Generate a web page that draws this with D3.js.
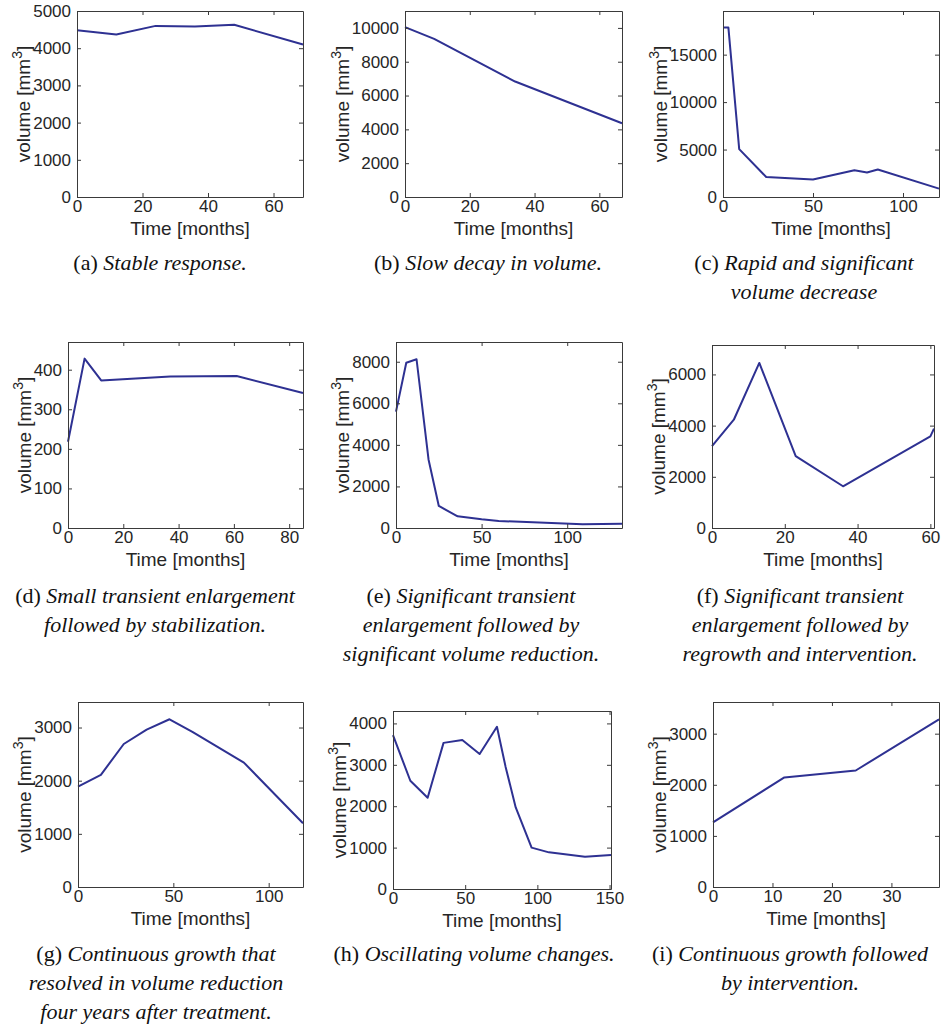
<!DOCTYPE html>
<html>
<head>
<meta charset="utf-8">
<script src="https://cdn.jsdelivr.net/npm/d3@7"></script>
<style>
body { margin: 0; background: #fff; }
svg { display: block; }
</style>
</head>
<body>
<svg id="fig" width="946" height="1029"></svg>
<script>
// months since treatment / tumour volume [mm^3] (a)..(i)
var monthsA = [0, 12, 24, 36, 48, 69];
var volumeA = [4480, 4370, 4600, 4585, 4630, 4100];
var monthsB = [0, 9, 34, 67];
var volumeB = [10050, 9350, 6830, 4360];
var monthsC = [0, 3, 9, 24, 50, 73, 80, 86, 120];
var volumeC = [17850, 17850, 5050, 2110, 1840, 2820, 2580, 2890, 880];
var monthsD = [0, 6, 12, 37, 61, 85];
var volumeD = [218, 428, 373, 383, 384, 341];
var monthsE = [0, 6, 12, 19, 25, 36, 50, 60, 109, 132];
var volumeE = [5600, 7950, 8120, 3300, 1060, 560, 420, 340, 175, 210];
var monthsF = [0, 6, 13, 23, 36, 60, 61];
var volumeF = [3200, 4230, 6450, 2810, 1630, 3580, 3880];
var monthsG = [0, 12, 24, 36, 48, 60, 87, 118];
var volumeG = [1890, 2110, 2690, 2960, 3155, 2920, 2340, 1200];
var monthsH = [0, 12, 24, 35, 48, 60, 72, 78, 85, 96, 108, 133, 151];
var volumeH = [3715, 2615, 2205, 3530, 3600, 3260, 3920, 2950, 1970, 1000, 885, 780, 820];
var monthsI = [0, 12, 24, 38];
var volumeI = [1265, 2145, 2280, 3280];

var allMonths = [monthsA, monthsB, monthsC, monthsD, monthsE, monthsF, monthsG, monthsH, monthsI];
var allVolume = [volumeA, volumeB, volumeC, volumeD, volumeE, volumeF, volumeG, volumeH, volumeI];

// axis limits and ticks per panel
var xMax = [69, 67, 120, 85, 132, 61, 118, 151, 38];
var yMax = [5000, 11000, 19600, 470, 8950, 7150, 3480, 4300, 3620];
var xTicks = [
	[0, 20, 40, 60], [0, 20, 40, 60], [0, 50, 100],
	[0, 20, 40, 60, 80], [0, 50, 100], [0, 20, 40, 60],
	[0, 50, 100], [0, 50, 100, 150], [0, 10, 20, 30]
];
var yTicks = [
	[0, 1000, 2000, 3000, 4000, 5000], [0, 2000, 4000, 6000, 8000, 10000], [0, 5000, 10000, 15000],
	[0, 100, 200, 300, 400], [0, 2000, 4000, 6000, 8000], [0, 2000, 4000, 6000],
	[0, 1000, 2000, 3000], [0, 1000, 2000, 3000, 4000], [0, 1000, 2000, 3000]
];

var xLabel = 'Time [months]';
var captionTags = ['(a)', '(b)', '(c)', '(d)', '(e)', '(f)', '(g)', '(h)', '(i)'];
var captionLines = [
	['Stable response.'],
	['Slow decay in volume.'],
	['Rapid and significant', 'volume decrease'],
	['Small transient enlargement', 'followed by stabilization.'],
	['Significant transient', 'enlargement followed by', 'significant volume reduction.'],
	['Significant transient', 'enlargement followed by', 'regrowth and intervention.'],
	['Continuous growth that', 'resolved in volume reduction', 'four years after treatment.'],
	['Oscillating volume changes.'],
	['Continuous growth followed', 'by intervention.']
];

// layout: plot box [left, right, top, bottom], caption centre x, first caption baseline
var boxes = [
	[77, 303, 11, 197], [405, 622, 11, 197], [723, 939, 11, 197],
	[68, 303, 342, 528], [396, 622, 342, 528], [712, 934, 345, 528],
	[78, 303, 702, 887], [393, 611, 711, 889], [713, 939, 702, 887]
];
var capX = [160, 488, 804, 155, 471, 800, 156, 474, 790];
var capY = [270, 270, 270, 603, 603, 603, 961, 961, 961];

var sans = '"Liberation Sans", Arial, Helvetica, sans-serif';
var serif = '"Liberation Serif", "Times New Roman", serif';
var axisColor = '#3a3a3a';
var lineColor = '#2e3192';
var fmt = d3.format('d');

var svg = d3.select('#fig');

function styleAxis(sel) {
	sel.select('.domain').attr('stroke', axisColor);
	sel.selectAll('.tick line').attr('stroke', axisColor);
	sel.selectAll('.tick text')
		.attr('fill', '#262626')
		.style('font-family', sans)
		.style('font-size', '17px');
}

function drawPanel(i) {
	var b = boxes[i];
	var x = d3.scaleLinear().domain([0, xMax[i]]).range([b[0], b[1]]);
	var y = d3.scaleLinear().domain([0, yMax[i]]).range([b[3], b[2]]);
	var g = svg.append('g').attr('class', 'panel');

	var line = d3.line()
		.x(function(d) { return x(d[0]); })
		.y(function(d) { return y(d[1]); });
	var pts = allMonths[i].map(function(m, k) { return [m, allVolume[i][k]]; });

	g.append('path')
		.datum(pts)
		.attr('d', line)
		.attr('fill', 'none')
		.attr('stroke', lineColor)
		.attr('stroke-width', 2)
		.attr('stroke-linejoin', 'round');

	// box with inward ticks on all sides (matlab look)
	var bottom = g.append('g')
		.attr('transform', 'translate(0,' + b[3] + ')')
		.call(d3.axisBottom(x).tickValues(xTicks[i]).tickFormat(fmt).tickSizeInner(-4).tickSizeOuter(0).tickPadding(3));
	styleAxis(bottom);
	g.append('g')
		.attr('transform', 'translate(0,' + b[2] + ')')
		.call(d3.axisTop(x).tickValues(xTicks[i]).tickSizeInner(-4).tickSizeOuter(0).tickFormat(''))
		.call(styleAxis);
	var left = g.append('g')
		.attr('transform', 'translate(' + b[0] + ',0)')
		.call(d3.axisLeft(y).tickValues(yTicks[i]).tickFormat(fmt).tickSizeInner(-4).tickSizeOuter(0).tickPadding(6));
	styleAxis(left);
	g.append('g')
		.attr('transform', 'translate(' + b[1] + ',0)')
		.call(d3.axisRight(y).tickValues(yTicks[i]).tickSizeInner(-4).tickSizeOuter(0).tickFormat(''))
		.call(styleAxis);

	g.append('text')
		.attr('x', (b[0] + b[1]) / 2)
		.attr('y', b[3] + 38)
		.attr('text-anchor', 'middle')
		.attr('fill', '#262626')
		.style('font-family', sans)
		.style('font-size', '19px')
		.text(xLabel);

	// y label sits just left of the widest tick label
	var maxW = 0;
	left.selectAll('.tick text').each(function() {
		maxW = Math.max(maxW, this.getBBox().width);
	});
	var lx = b[0] - 6 - maxW - 3;
	var ly = (b[2] + b[3]) / 2;
	var yl = g.append('text')
		.attr('transform', 'translate(' + lx + ',' + ly + ') rotate(-90)')
		.attr('text-anchor', 'middle')
		.attr('fill', '#262626')
		.style('font-family', sans)
		.style('font-size', '19px');
	yl.append('tspan').text('volume [mm');
	yl.append('tspan').attr('dy', -8).style('font-size', '14px').text('3');
	yl.append('tspan').attr('dy', 8).text(']');

	// caption: roman tag + italic text, centred lines
	captionLines[i].forEach(function(txt, k) {
		var t = g.append('text')
			.attr('x', capX[i])
			.attr('y', capY[i] + k * 29)
			.attr('text-anchor', 'middle')
			.attr('fill', '#111')
			.style('font-family', serif)
			.style('font-size', '22px');
		if (k === 0) t.append('tspan').text(captionTags[i] + ' ');
		t.append('tspan').style('font-style', 'italic').text(txt);
	});
}

for (var i = 0; i < boxes.length; i++) drawPanel(i);
</script>
</body>
</html>
